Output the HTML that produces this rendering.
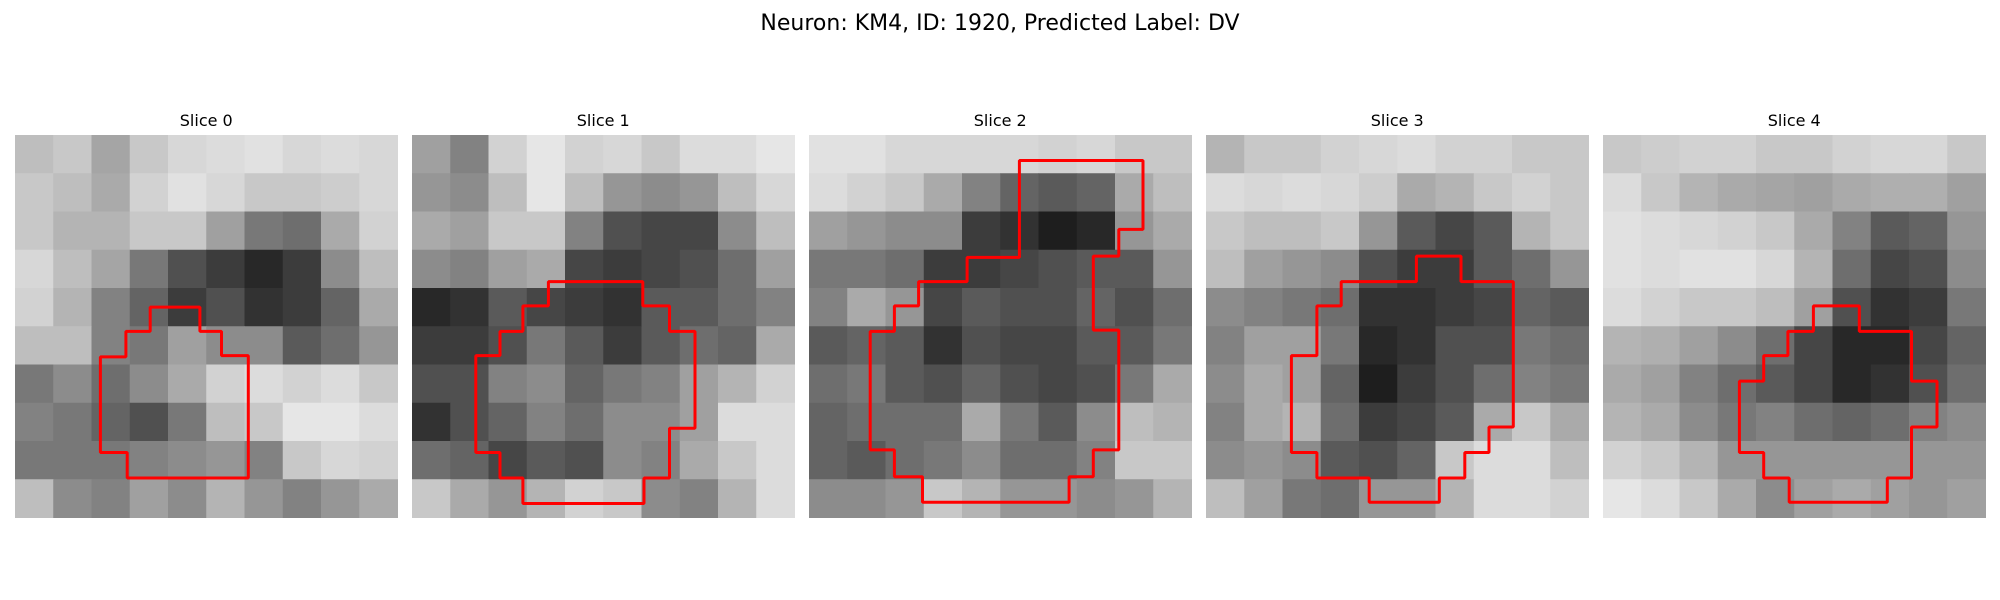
<!DOCTYPE html>
<html><head><meta charset="utf-8"><style>
html,body{margin:0;padding:0;background:#fff;}
svg{display:block;font-family:"DejaVu Sans","Liberation Sans",sans-serif;}
</style></head><body>
<svg id="fig" width="2000" height="600" viewBox="0 0 2000 600" xmlns="http://www.w3.org/2000/svg">
<text x="1000" y="30" text-anchor="middle" font-size="22" fill="#000">Neuron: KM4, ID: 1920, Predicted Label: DV</text>
</svg>
<script>
const sliceTitles = ["Slice 0","Slice 1","Slice 2","Slice 3","Slice 4"];
const slice0 = [
[190,200,165,200,215,220,225,215,220,215],
[200,190,170,210,225,215,200,200,205,215],
[200,180,180,200,200,160,120,110,170,210],
[215,190,165,120,80,60,40,60,140,190],
[210,180,130,100,60,80,50,60,100,170],
[190,190,130,120,160,140,140,90,110,150],
[120,140,110,140,170,210,220,210,220,200],
[130,120,100,80,120,190,200,230,230,220],
[120,120,120,130,140,150,130,200,215,210],
[190,140,130,160,140,180,150,130,150,170]];
const slice1 = [
[160,130,210,230,210,215,200,220,220,230],
[150,140,190,230,190,150,140,150,190,215],
[170,160,200,200,130,80,70,70,140,190],
[140,130,160,170,70,60,70,80,110,160],
[40,50,90,70,60,50,90,90,110,130],
[60,60,80,120,90,60,90,110,100,170],
[80,80,130,140,100,120,130,160,180,210],
[50,80,100,130,110,140,140,160,220,220],
[110,100,70,90,80,140,130,170,200,220],
[200,170,150,180,210,200,140,130,180,220]];
const slice2 = [
[225,225,215,215,215,215,210,215,200,200],
[220,210,200,170,130,100,90,100,170,190],
[160,150,140,140,60,50,30,40,150,170],
[120,120,110,60,60,70,80,90,90,150],
[130,170,150,70,90,80,80,100,80,110],
[90,100,90,50,80,70,70,90,90,120],
[110,120,90,80,100,80,70,80,120,170],
[100,110,110,110,170,120,90,140,190,180],
[100,90,110,120,140,110,110,130,200,200],
[140,140,150,200,180,150,150,140,150,180]];
const slice3 = [
[180,200,200,210,215,220,210,210,200,200],
[220,215,220,215,205,170,180,200,210,200],
[200,190,190,200,150,90,70,90,180,200],
[190,160,150,140,80,60,60,90,110,150],
[140,130,120,110,50,50,60,70,100,90],
[130,160,160,120,40,50,80,80,120,110],
[140,170,160,100,30,60,80,110,130,120],
[130,170,180,110,60,70,90,170,200,170],
[140,150,140,90,80,100,200,220,220,190],
[190,160,120,110,150,150,180,220,220,210]];
const slice4 = [
[200,205,210,210,200,200,210,215,215,200],
[220,200,180,170,165,160,170,175,175,160],
[225,220,215,210,200,170,130,90,100,150],
[225,220,225,225,215,180,110,70,80,140],
[220,210,200,200,190,160,80,50,60,120],
[180,175,160,140,110,70,40,40,70,100],
[170,160,130,110,90,70,40,50,80,110],
[180,170,140,120,130,110,100,110,130,140],
[210,200,180,150,150,150,150,150,150,150],
[230,220,200,170,140,160,170,160,150,160]];
const contour0 = [[10.6,13.5],[14.5,13.5],[14.5,15.4],[16.2,15.4],[16.2,17.3],[18.3,17.3],[18.3,26.9],[8.8,26.9],[8.8,24.9],[6.7,24.9],[6.7,17.4],[8.7,17.4],[8.7,15.4],[10.6,15.4]];
const contour1 = [[10.7,11.5],[18.1,11.5],[18.1,13.4],[20.2,13.4],[20.2,15.4],[22.2,15.4],[22.2,23.0],[20.2,23.0],[20.2,26.9],[18.2,26.9],[18.2,28.9],[8.7,28.9],[8.7,26.9],[6.9,26.9],[6.9,24.9],[5.0,24.9],[5.0,17.3],[6.9,17.3],[6.9,15.4],[8.7,15.4],[8.7,13.4],[10.7,13.4]];
const contour2 = [[16.5,2.0],[26.2,2.0],[26.2,7.4],[24.3,7.4],[24.3,9.5],[22.3,9.5],[22.3,15.3],[24.3,15.3],[24.3,24.7],[22.3,24.7],[22.3,26.8],[20.4,26.8],[20.4,28.8],[8.9,28.8],[8.9,26.8],[6.7,26.8],[6.7,24.7],[4.8,24.7],[4.8,15.4],[6.7,15.4],[6.7,13.4],[8.6,13.4],[8.6,11.5],[12.4,11.5],[12.4,9.6],[16.5,9.6]];
const contour3 = [[16.5,9.5],[20.0,9.5],[20.0,11.5],[24.1,11.5],[24.1,22.9],[22.2,22.9],[22.2,24.9],[20.3,24.9],[20.3,26.9],[18.3,26.9],[18.3,28.8],[12.8,28.8],[12.8,26.9],[8.7,26.9],[8.7,24.9],[6.7,24.9],[6.7,17.3],[8.7,17.3],[8.7,13.4],[10.6,13.4],[10.6,11.5],[16.5,11.5]];
const contour4 = [[16.5,13.4],[20.1,13.4],[20.1,15.4],[24.2,15.4],[24.2,19.3],[26.2,19.3],[26.2,22.9],[24.2,22.9],[24.2,26.9],[22.3,26.9],[22.3,28.8],[14.6,28.8],[14.6,26.9],[12.6,26.9],[12.6,24.9],[10.7,24.9],[10.7,19.3],[12.6,19.3],[12.6,17.3],[14.5,17.3],[14.5,15.4],[16.5,15.4]];

const slices = [slice0,slice1,slice2,slice3,slice4];
const contours = [contour0,contour1,contour2,contour3,contour4];
const NS = "http://www.w3.org/2000/svg";
const svg = document.getElementById("fig");
const panelLeft = [15, 412, 809, 1206, 1603];
const panelTop = 135, panelSize = 382.5, gridN = 30;
const cellPx = panelSize / gridN;

slices.forEach((data, p) => {
  const g = document.createElementNS(NS, "g");
  
  
  svg.appendChild(g);
  const x0 = panelLeft[p];
  const t = document.createElementNS(NS, "text");
  
  
  t.setAttribute("x", x0 + panelSize / 2);
  t.setAttribute("y", 126);
  t.setAttribute("text-anchor", "middle");
  t.setAttribute("font-size", "16");
  t.textContent = sliceTitles[p];
  g.appendChild(t);
  const rows = data.length, cols = data[0].length;
  const cw = panelSize / cols, ch = panelSize / rows;
  data.forEach((row, r) => row.forEach((v, c) => {
    const rect = document.createElementNS(NS, "rect");
    
    
    rect.setAttribute("x", x0 + c * cw);
    rect.setAttribute("y", panelTop + r * ch);
    rect.setAttribute("width", cw + 0.5);
    rect.setAttribute("height", ch + 0.5);
    rect.setAttribute("fill", `rgb(${v},${v},${v})`);
    g.appendChild(rect);
  }));
  const pts = contours[p].map(([gx, gy]) => (x0 + gx * cellPx).toFixed(1) + "," + (panelTop + gy * cellPx).toFixed(1)).join(" ");
  const poly = document.createElementNS(NS, "polygon");
  
  
  poly.setAttribute("points", pts);
  poly.setAttribute("fill", "none");
  poly.setAttribute("stroke", "#ff0000");
  poly.setAttribute("stroke-width", "3");
  poly.setAttribute("stroke-linejoin", "bevel");
  g.appendChild(poly);
});
</script>
</body></html>
